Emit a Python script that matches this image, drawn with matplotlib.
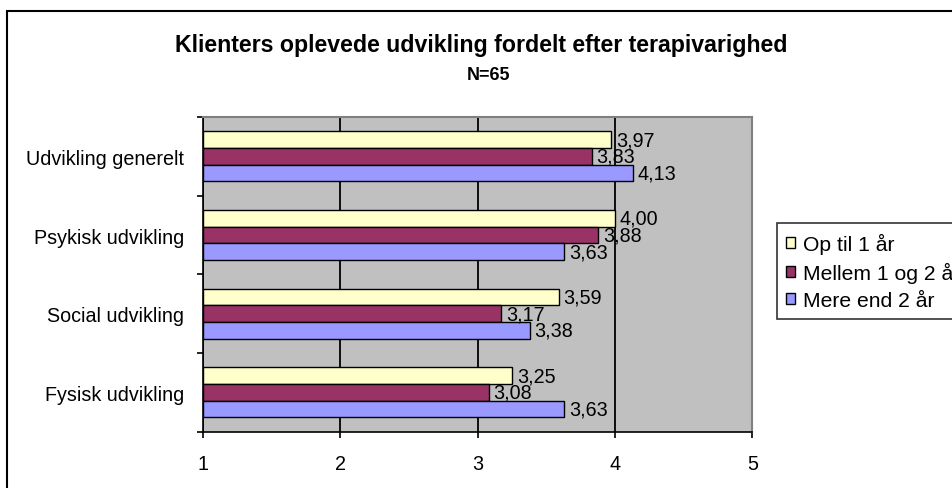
import matplotlib
matplotlib.use("Agg")
import matplotlib.pyplot as plt
from matplotlib.patches import Patch, Rectangle
import numpy as np

plt.rcParams['font.family'] = ['Liberation Sans', 'DejaVu Sans']

categories = ["Udvikling generelt", "Psykisk udvikling", "Social udvikling", "Fysisk udvikling"]
series_names = ["Op til 1 år", "Mellem 1 og 2 år", "Mere end 2 år"]
op_til_1 = [3.97, 4.00, 3.59, 3.25]
mellem_1_2 = [3.83, 3.88, 3.17, 3.08]
mere_end_2 = [4.13, 3.63, 3.38, 3.63]
x_ticks = [1, 2, 3, 4, 5]

colors = ["#FFFFCC", "#993366", "#9999FF"]
label_size = 14.2

fig = plt.figure(figsize=(9.53, 4.89), dpi=100)
ax = fig.add_axes([0.2125, 0.1151, 0.5771, 0.6436])
ax.set_facecolor("#C0C0C0")

# chart area frame, runs off the right and bottom edges
fig.patches.append(Rectangle((7 / 953, -0.2), 1.2, 1.2 - 12 / 489,
                             transform=fig.transFigure, fill=False,
                             edgecolor="black", linewidth=1.5, clip_on=False))

y = np.arange(len(categories))
h = 0.212
for i, (vals, col) in enumerate(zip([op_til_1, mellem_1_2, mere_end_2], colors)):
    pos = y + (i - 1) * h
    ax.barh(pos, np.array(vals) - 1, left=1, height=h, color=col,
            edgecolor="black", linewidth=1.0, zorder=3)
    for p, v in zip(pos, vals):
        ax.annotate(f"{v:.2f}".replace(".", ","), (v, p), xytext=(3.5, 0),
                    textcoords="offset points", va="center", ha="left",
                    fontsize=label_size, zorder=4)

ax.set_xlim(1, 5)
ax.set_ylim(len(categories) - 0.5, -0.5)
ax.set_xticks(x_ticks)
ax.set_xticklabels([str(t) for t in x_ticks], fontsize=label_size)
ax.set_yticks(y)
ax.set_yticklabels(categories, fontsize=label_size)
ax.set_yticks(np.arange(-0.5, len(categories), 1), minor=True)
ax.tick_params(axis="y", which="major", length=0, pad=13.3)
ax.tick_params(axis="y", which="minor", length=4, width=1.2, direction="out")
ax.tick_params(axis="x", length=4, width=1.2, direction="out", pad=12)

ax.grid(axis="x", color="black", linewidth=1.3, zorder=1)
ax.set_axisbelow(True)
for side in ("top", "right"):
    ax.spines[side].set_color("#808080")
    ax.spines[side].set_linewidth(1.5)
for side in ("left", "bottom"):
    ax.spines[side].set_color("black")
    ax.spines[side].set_linewidth(1.2)

fig.text(0.505, 1 - 52 / 489, "Klienters oplevede udvikling fordelt efter terapivarighed",
         ha="center", va="baseline", fontsize=16.7, fontweight="bold")
fig.text(0.513, 1 - 80 / 489, "N=65", ha="center", va="baseline",
         fontsize=13, fontweight="bold")

handles = [Patch(facecolor=c, edgecolor="black", linewidth=1.0) for c in colors]
leg = fig.legend(handles, series_names, loc="upper left",
                 bbox_to_anchor=(776.7 / 953, 1 - 224.3 / 489),
                 fontsize=15.2, frameon=True, fancybox=False,
                 handlelength=0.4, handleheight=0.4, handletextpad=0.4,
                 labelspacing=0.38, borderpad=0.45, borderaxespad=0)
leg.get_frame().set_edgecolor("black")
leg.get_frame().set_linewidth(1.2)

fig.savefig("out.png", dpi=100)
